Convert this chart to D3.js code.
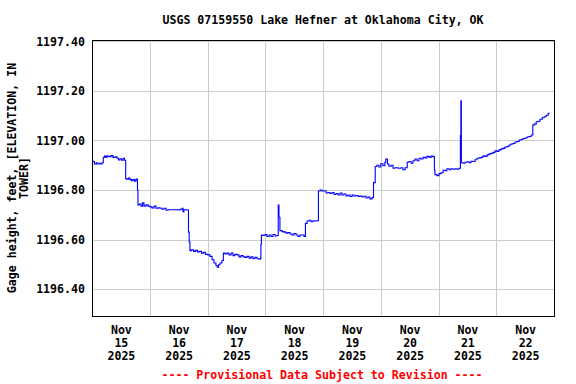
<!DOCTYPE html>
<html>
<head>
<meta charset="utf-8">
<script src="https://cdn.jsdelivr.net/npm/d3@7"></script>
<style>
  body { margin: 0; background: #fff; }
  text { font-family: "DejaVu Sans Mono", monospace; font-weight: bold; font-size: 11.6px; fill: #000; }
</style>
</head>
<body>
<div id="chart"></div>
<script>
// Gage height readings, hours after Nov 15 2025 00:00
const hours = [
  0, 0.4, 1.0, 1.7, 2.1, 2.9, 3.5, 4.2, 4.7, 5.2, 5.8, 6.2, 7.1, 7.9, 8.7, 9.6, 10.4, 11.0, 11.6, 12.3, 12.9, 13.5,
  14.0, 14.5, 15.2, 15.8, 16.4, 17.0, 17.7, 18.3, 18.9, 19.1, 19.7, 20.4, 21.0, 21.6, 22.4, 23.3, 24.1,
  24.9, 25.8, 26.6, 27.4, 28.3, 29.1, 29.9, 30.8, 31.6, 32.4, 34.1, 35.7, 36.6, 37.4, 37.8, 38.2, 39.1, 39.9,
  40.1, 40.4, 40.7, 41.3, 42.2, 43.0, 43.8, 44.6, 45.5, 46.3, 47.1, 48.2,
  49.0, 49.9, 50.7, 51.5, 52.0, 52.6, 53.2, 54.0, 54.6, 55.3, 56.1, 56.9, 57.8, 58.6, 59.4, 60.3, 61.1, 61.9,
  62.8, 63.6, 64.4, 65.3, 66.1, 66.9, 67.7, 68.6, 69.4, 70.0, 70.2, 70.4,
  71.1, 71.9, 72.7, 73.6, 74.4, 75.2, 76.1, 76.9, 77.4, 77.7, 78.1, 79.0, 79.8, 80.6, 81.4, 82.3, 83.1, 83.9,
  84.8, 85.6, 86.4, 87.3, 88.1, 88.7, 89.4, 90.2, 91.0, 91.9, 92.7, 93.5, 94.1,
  94.8, 95.6, 96.5, 97.3, 98.1, 98.9, 99.8, 100.6, 101.4, 102.3, 103.1, 103.9, 104.7, 105.6, 106.4, 107.2,
  108.1, 108.9, 109.7, 110.6, 111.4, 112.2, 113.0, 113.9, 114.7, 115.5, 116.4, 117.0, 117.7,
  118.4, 119.2, 120.0, 120.9, 121.7, 122.1, 122.8, 123.4, 124.3, 125.1, 125.9, 127.2, 128.4, 129.2, 130.1,
  131.0, 131.7, 132.6, 133.4, 134.2, 135.1, 135.9, 136.7, 137.6, 138.4, 139.2, 140.1, 140.9, 141.7, 142.3, 142.5,
  143.4, 144.2, 145.0, 145.9, 146.7, 147.5, 148.4, 149.2, 150.0, 150.9, 151.7, 152.5, 153.1, 153.3, 153.5,
  154.2, 155.0, 155.8, 156.7, 157.5, 158.3, 159.2, 160.0, 160.8, 161.7, 162.5, 163.3, 164.2, 165.0, 165.8,
  166.7, 167.5, 168.3, 169.1, 170.0, 170.8, 171.6, 172.5, 173.3, 174.1, 175.0, 175.8, 176.6, 177.5, 178.3,
  179.1, 180.0, 180.8, 181.6, 182.5, 183.2, 183.7, 184.6, 185.4, 186.2, 187.1, 187.9, 188.7, 189.6, 190.0
];
const gageHeight = [
  1196.917, 1196.915, 1196.905, 1196.910, 1196.905, 1196.908, 1196.905, 1196.910, 1196.932, 1196.937, 1196.932,
  1196.937, 1196.935, 1196.939, 1196.932, 1196.934, 1196.928, 1196.921, 1196.926, 1196.920, 1196.928, 1196.920,
  1196.846, 1196.844, 1196.848, 1196.842, 1196.838, 1196.842, 1196.836, 1196.844, 1196.800, 1196.740, 1196.743,
  1196.735, 1196.748, 1196.735, 1196.740, 1196.735, 1196.732,
  1196.728, 1196.735, 1196.726, 1196.728, 1196.726, 1196.722, 1196.726, 1196.718, 1196.720, 1196.720, 1196.720,
  1196.719, 1196.722, 1196.726, 1196.712, 1196.720, 1196.719, 1196.719,
  1196.630, 1196.590, 1196.555, 1196.558, 1196.552, 1196.556, 1196.550, 1196.552, 1196.545, 1196.548, 1196.540, 1196.538,
  1196.532, 1196.518, 1196.505, 1196.495, 1196.488, 1196.498, 1196.505, 1196.515, 1196.545, 1196.542, 1196.545,
  1196.538, 1196.545, 1196.535, 1196.540, 1196.538, 1196.530, 1196.535,
  1196.530, 1196.528, 1196.532, 1196.525, 1196.530, 1196.522, 1196.528, 1196.522, 1196.520, 1196.525, 1196.580, 1196.618,
  1196.616, 1196.620, 1196.612, 1196.618, 1196.612, 1196.620, 1196.614, 1196.616, 1196.739, 1196.690, 1196.636,
  1196.632, 1196.630, 1196.626, 1196.628, 1196.622, 1196.618, 1196.624,
  1196.618, 1196.612, 1196.618, 1196.618, 1196.612, 1196.665, 1196.675, 1196.678, 1196.672, 1196.676, 1196.675,
  1196.676, 1196.796,
  1196.800, 1196.796, 1196.797, 1196.788, 1196.790, 1196.786, 1196.790, 1196.782, 1196.786, 1196.780, 1196.788,
  1196.780, 1196.784, 1196.776, 1196.780, 1196.774,
  1196.780, 1196.776, 1196.778, 1196.774, 1196.776, 1196.772, 1196.775, 1196.768, 1196.772, 1196.764, 1196.770,
  1196.830, 1196.895,
  1196.900, 1196.893, 1196.906, 1196.898, 1196.912, 1196.925, 1196.905, 1196.896, 1196.900, 1196.888, 1196.890,
  1196.888, 1196.890, 1196.882, 1196.890,
  1196.912, 1196.915, 1196.908, 1196.918, 1196.925, 1196.918, 1196.928, 1196.925, 1196.932, 1196.930, 1196.936,
  1196.932, 1196.937, 1196.935, 1196.880, 1196.862,
  1196.858, 1196.866, 1196.870, 1196.880, 1196.878, 1196.886, 1196.882, 1196.886, 1196.884, 1196.886, 1196.884,
  1196.888, 1197.020, 1197.160, 1196.910,
  1196.908, 1196.912, 1196.914, 1196.910, 1196.916, 1196.915, 1196.922, 1196.928, 1196.930, 1196.932, 1196.938,
  1196.936, 1196.942, 1196.946, 1196.948,
  1196.952, 1196.958, 1196.956, 1196.962, 1196.966, 1196.968, 1196.974, 1196.976, 1196.982, 1196.986, 1196.988,
  1196.994, 1196.996, 1197.002, 1197.004,
  1197.008, 1197.010, 1197.014, 1197.016, 1197.022, 1197.062, 1197.066, 1197.076, 1197.078, 1197.086, 1197.092,
  1197.096, 1197.102, 1197.110, 1197.112
];
const yTicks = [1196.40, 1196.60, 1196.80, 1197.00, 1197.20, 1197.40];
const dayLabels = ["15", "16", "17", "18", "19", "20", "21", "22"];
const title = "USGS 07159550 Lake Hefner at Oklahoma City, OK";
const yLabel = ["Gage height, feet, [ELEVATION, IN", "TOWER]"];
const footer = "---- Provisional Data Subject to Revision ----";

const startDate = new Date(2025, 10, 15);
const endDate = new Date(2025, 10, 23);
const toDate = h => new Date(startDate.getTime() + h * 3600e3);

// Set dimensions and margins
const totalW = 576, totalH = 384;
const margin = { top: 40, right: 22, bottom: 68, left: 92 };
const width = totalW - margin.left - margin.right;
const height = totalH - margin.top - margin.bottom;

const svg = d3.select('#chart')
    .append('svg')
    .attr('width', totalW)
    .attr('height', totalH);

const g = svg.append('g')
    .attr('transform', `translate(${margin.left},${margin.top})`);

// Scales
const x = d3.scaleTime().domain([startDate, endDate]).range([0, width]);
const y = d3.scaleLinear().domain([1196.291, 1197.406]).range([height, 0]);

// Horizontal grid
g.selectAll('.hgrid')
    .data(yTicks)
    .enter()
    .append('line')
    .attr('x1', 0).attr('x2', width)
    .attr('y1', d => Math.round(y(d)) + 0.5)
    .attr('y2', d => Math.round(y(d)) + 0.5)
    .attr('stroke', '#cccccc');

// Vertical grid at midnight
const midnights = d3.timeDay.range(d3.timeDay.offset(startDate, 1), endDate);
g.selectAll('.vgrid')
    .data(midnights)
    .enter()
    .append('line')
    .attr('x1', d => Math.round(x(d)) + 0.5)
    .attr('x2', d => Math.round(x(d)) + 0.5)
    .attr('y1', 0).attr('y2', height)
    .attr('stroke', '#cccccc');

// Y axis labels
const yAxis = g.append('g')
    .call(d3.axisLeft(y).tickValues(yTicks).tickSize(0).tickPadding(7).tickFormat(d3.format('.2f')));
yAxis.select('.domain').remove();
yAxis.selectAll('text').style('font-family', null).style('font-size', null).attr('font-size', null).attr('font-family', null);

// X axis labels at noon of each day
const noons = dayLabels.map((d, i) => toDate(i * 24 + 12));
const xAxis = g.append('g')
    .attr('transform', `translate(0,${height})`)
    .call(d3.axisBottom(x).tickValues(noons).tickSize(0).tickFormat(''));
xAxis.select('.domain').remove();
xAxis.selectAll('.tick text').remove();
xAxis.selectAll('.tick').each(function(d, i) {
    const t = d3.select(this).append('text').attr('text-anchor', 'middle');
    t.append('tspan').attr('x', 0).attr('y', 18).text('Nov');
    t.append('tspan').attr('x', 0).attr('y', 31).text(dayLabels[i]);
    t.append('tspan').attr('x', 0).attr('y', 44).text('2025');
});

// Data line
const line = d3.line()
    .x(d => x(d[0]))
    .y(d => y(d[1]))
    .curve(d3.curveStepAfter);
g.append('path')
    .datum(hours.map((h, i) => [toDate(h), gageHeight[i]]))
    .attr('fill', 'none')
    .attr('stroke', '#0000ff')
    .attr('stroke-width', 1.1)
    .attr('d', line);

// Plot border
g.append('rect')
    .attr('x', 0.5).attr('y', 0.5)
    .attr('width', width).attr('height', height)
    .attr('fill', 'none')
    .attr('stroke', '#000');

// Title
svg.append('text')
    .attr('x', 323).attr('y', 24)
    .attr('text-anchor', 'middle')
    .text(title);

// Y axis label (two lines)
const yl = svg.append('text')
    .attr('transform', `translate(16,${margin.top + height / 2}) rotate(-90)`)
    .attr('text-anchor', 'middle');
yl.append('tspan').attr('x', 0).attr('y', 0).text(yLabel[0]);
yl.append('tspan').attr('x', 0).attr('y', 12).text(yLabel[1]);

// Footer
svg.append('text')
    .attr('x', 322).attr('y', 379)
    .attr('text-anchor', 'middle')
    .style('fill', '#ff0000')
    .text(footer);
</script>
</body>
</html>
